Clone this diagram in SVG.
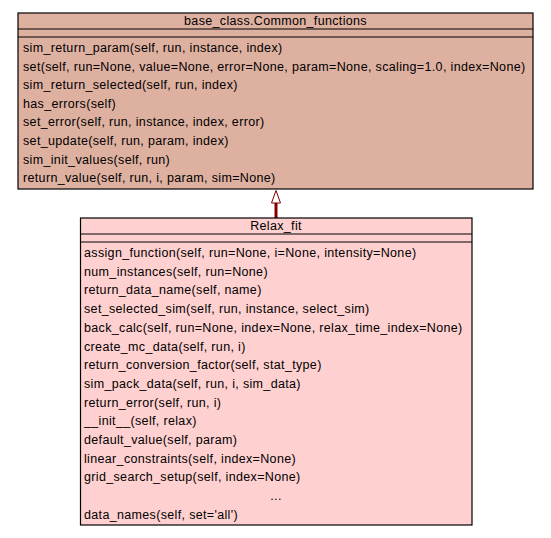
<svg xmlns="http://www.w3.org/2000/svg" width="551" height="538" viewBox="0 0 551 538">
  <style>
    .box { stroke: #000; stroke-width: 1.2; }
    .sep { stroke: #000; stroke-width: 1.2; }
    text { font-family: "Liberation Sans", Arial, sans-serif; font-size: 12.5px; letter-spacing: 0.34px; fill: #000; }
    .title { text-anchor: middle; }
  </style>
  <rect width="551" height="538" fill="#fff"/>

  <!-- inheritance connector: Relax_fit -> base_class.Common_functions -->
  <g id="connectors">
    <line x1="276" y1="218" x2="276" y2="202" stroke="#800000" stroke-width="3"/>
    <polygon points="276,190.5 271.5,203 280.5,203" fill="#fff" stroke="#800000" stroke-width="1"/>
  </g>

  <g id="node-common-functions">
    <rect class="box" x="18" y="13" width="515" height="176" fill="#deb0a0"/>
    <line class="sep" x1="18" y1="29" x2="533" y2="29"/>
    <line class="sep" x1="18" y1="37" x2="533" y2="37"/>
    <text class="title" x="275.5" y="25">base_class.Common_functions</text>
    <text x="23" y="52">sim_return_param(self, run, instance, index)</text>
    <text x="23" y="70.6">set(self, run=None, value=None, error=None, param=None, scaling=1.0, index=None)</text>
    <text x="23" y="89.2">sim_return_selected(self, run, index)</text>
    <text x="23" y="107.8">has_errors(self)</text>
    <text x="23" y="126.4">set_error(self, run, instance, index, error)</text>
    <text x="23" y="145">set_update(self, run, param, index)</text>
    <text x="23" y="163.6">sim_init_values(self, run)</text>
    <text x="23" y="182.2">return_value(self, run, i, param, sim=None)</text>
  </g>

  <g id="node-relax-fit">
    <rect class="box" x="80.5" y="218" width="391.5" height="307" fill="#ffd0d0"/>
    <line class="sep" x1="80.5" y1="234" x2="472" y2="234"/>
    <line class="sep" x1="80.5" y1="242" x2="472" y2="242"/>
    <text class="title" x="276" y="230">Relax_fit</text>
    <text x="84" y="257">assign_function(self, run=None, i=None, intensity=None)</text>
    <text x="84" y="275.7">num_instances(self, run=None)</text>
    <text x="84" y="294.4">return_data_name(self, name)</text>
    <text x="84" y="313.1">set_selected_sim(self, run, instance, select_sim)</text>
    <text x="84" y="331.8">back_calc(self, run=None, index=None, relax_time_index=None)</text>
    <text x="84" y="350.5">create_mc_data(self, run, i)</text>
    <text x="84" y="369.2">return_conversion_factor(self, stat_type)</text>
    <text x="84" y="387.9">sim_pack_data(self, run, i, sim_data)</text>
    <text x="84" y="406.6">return_error(self, run, i)</text>
    <text x="84" y="425.3">__init__(self, relax)</text>
    <text x="84" y="444">default_value(self, param)</text>
    <text x="84" y="462.7">linear_constraints(self, index=None)</text>
    <text x="84" y="481.4">grid_search_setup(self, index=None)</text>
    <text class="title" x="276" y="500.1">...</text>
    <text x="84" y="518.8">data_names(self, set='all')</text>
  </g>
</svg>
